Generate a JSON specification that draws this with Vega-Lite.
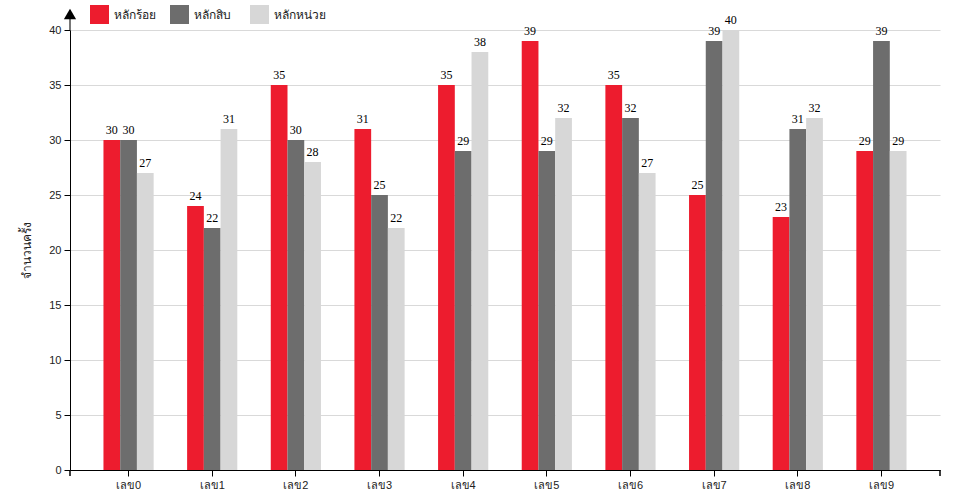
{
  "$schema": "https://vega.github.io/schema/vega-lite/v6.json",
  "autosize": {"type": "none"},
  "padding": {"left": 70, "top": 30, "right": 20, "bottom": 30},
  "width": 870,
  "height": 440,
  "background": "white",
  "config": {
    "view": {"stroke": null},
    "font": "sans-serif",
    "axis": {"labelFont": "sans-serif", "titleFont": "sans-serif"}
  },
  "resolve": {"scale": {"x": "independent"}},
  "layer": [
    {
      "data": {
        "values": [
          {"digit": "เลข0", "place": "หลักร้อย", "count": 30},
          {"digit": "เลข0", "place": "หลักสิบ", "count": 30},
          {"digit": "เลข0", "place": "หลักหน่วย", "count": 27},
          {"digit": "เลข1", "place": "หลักร้อย", "count": 24},
          {"digit": "เลข1", "place": "หลักสิบ", "count": 22},
          {"digit": "เลข1", "place": "หลักหน่วย", "count": 31},
          {"digit": "เลข2", "place": "หลักร้อย", "count": 35},
          {"digit": "เลข2", "place": "หลักสิบ", "count": 30},
          {"digit": "เลข2", "place": "หลักหน่วย", "count": 28},
          {"digit": "เลข3", "place": "หลักร้อย", "count": 31},
          {"digit": "เลข3", "place": "หลักสิบ", "count": 25},
          {"digit": "เลข3", "place": "หลักหน่วย", "count": 22},
          {"digit": "เลข4", "place": "หลักร้อย", "count": 35},
          {"digit": "เลข4", "place": "หลักสิบ", "count": 29},
          {"digit": "เลข4", "place": "หลักหน่วย", "count": 38},
          {"digit": "เลข5", "place": "หลักร้อย", "count": 39},
          {"digit": "เลข5", "place": "หลักสิบ", "count": 29},
          {"digit": "เลข5", "place": "หลักหน่วย", "count": 32},
          {"digit": "เลข6", "place": "หลักร้อย", "count": 35},
          {"digit": "เลข6", "place": "หลักสิบ", "count": 32},
          {"digit": "เลข6", "place": "หลักหน่วย", "count": 27},
          {"digit": "เลข7", "place": "หลักร้อย", "count": 25},
          {"digit": "เลข7", "place": "หลักสิบ", "count": 39},
          {"digit": "เลข7", "place": "หลักหน่วย", "count": 40},
          {"digit": "เลข8", "place": "หลักร้อย", "count": 23},
          {"digit": "เลข8", "place": "หลักสิบ", "count": 31},
          {"digit": "เลข8", "place": "หลักหน่วย", "count": 32},
          {"digit": "เลข9", "place": "หลักร้อย", "count": 29},
          {"digit": "เลข9", "place": "หลักสิบ", "count": 39},
          {"digit": "เลข9", "place": "หลักหน่วย", "count": 29}
        ]
      },
      "layer": [
        {
          "mark": {"type": "bar"},
          "encoding": {
            "x": {
              "field": "digit", "type": "nominal", "sort": null,
              "scale": {"paddingInner": 0.4, "paddingOuter": 0.4},
              "axis": {"title": null, "labelAngle": 0, "domainColor": "black", "tickColor": "black", "tickSize": 6, "labelColor": "#222", "labelFontSize": 11, "labelPadding": 3, "grid": false}
            },
            "xOffset": {"field": "place", "type": "nominal", "sort": ["หลักร้อย", "หลักสิบ", "หลักหน่วย"], "scale": {"paddingInner": 0, "paddingOuter": 0}},
            "y": {
              "field": "count", "type": "quantitative",
              "scale": {"domain": [0, 40], "nice": false},
              "axis": {"title": "จำนวนครั้ง", "values": [0, 5, 10, 15, 20, 25, 30, 35, 40], "domainColor": "black", "tickColor": "black", "tickSize": 6, "labelColor": "#222", "labelFontSize": 11, "labelPadding": 3, "gridColor": "#d9d9d9", "titleFontSize": 12, "titleFontWeight": "normal", "titleColor": "#222", "titlePadding": 15}
            },
            "color": {
              "field": "place", "type": "nominal",
              "sort": ["หลักร้อย", "หลักสิบ", "หลักหน่วย"],
              "scale": {"domain": ["หลักร้อย", "หลักสิบ", "หลักหน่วย"], "range": ["#ED1C2E", "#6D6D6D", "#D7D7D7"]},
              "legend": {"title": null, "orient": "none", "legendX": 20, "legendY": -25, "direction": "horizontal", "columns": 3, "gridAlign": "all", "symbolType": "square", "symbolSize": 361, "symbolStrokeWidth": 0, "labelFontSize": 12, "labelColor": "#222", "labelOffset": 5, "columnPadding": 4}
            }
          }
        },
        {
          "mark": {"type": "text", "baseline": "bottom", "dy": -3, "font": "Liberation Serif", "fontSize": 12, "color": "black"},
          "encoding": {
            "x": {"field": "digit", "type": "nominal", "sort": null},
            "xOffset": {"field": "place", "type": "nominal", "sort": ["หลักร้อย", "หลักสิบ", "หลักหน่วย"]},
            "y": {"field": "count", "type": "quantitative"},
            "text": {"field": "count", "type": "quantitative"}
          }
        }
      ]
    },
    {
      "data": {"values": [{"e": 0}, {"e": 1}]},
      "mark": {"type": "rule", "color": "black", "strokeWidth": 1.5},
      "encoding": {
        "x": {"field": "e", "type": "quantitative", "scale": {"domain": [0, 1]}, "axis": null},
        "y": {"datum": 0},
        "y2": {"datum": -0.55}
      }
    },
    {
      "data": {"values": [{"e": 0}]},
      "mark": {"type": "rule", "color": "#777", "strokeWidth": 2},
      "encoding": {
        "x": {"field": "e", "type": "quantitative", "scale": {"domain": [0, 1]}, "axis": null},
        "y": {"datum": 40},
        "y2": {"datum": 41.1}
      }
    },
    {
      "data": {"values": [{"e": 0}]},
      "mark": {"type": "point", "shape": "triangle-up", "filled": true, "color": "black", "size": 150, "opacity": 1},
      "encoding": {
        "x": {"field": "e", "type": "quantitative", "scale": {"domain": [0, 1]}, "axis": null},
        "y": {"datum": 41.45}
      }
    }
  ]
}
